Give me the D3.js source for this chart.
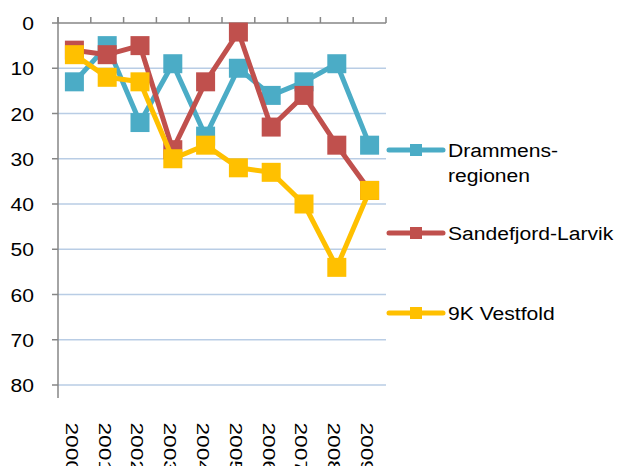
<!DOCTYPE html>
<html>
<head>
<meta charset="utf-8">
<script src="https://cdn.jsdelivr.net/npm/d3@7"></script>
<style>
  html, body { margin: 0; padding: 0; background: #fff; }
  svg { display: block; }
  text { font-family: "Liberation Sans", Arial, sans-serif; fill: #000; }
</style>
</head>
<body>
<svg id="chart" width="617" height="466"></svg>
<script>
// Rankings per year (lower = better, axis reversed)
const years = ["2000","2001","2002","2003","2004","2005","2006","2007","2008","2009"];
const drammensregionen = [13, 5, 22, 9, 25, 10, 16, 13, 9, 27];
const sandefjordLarvik = [6, 7, 5, 28, 13, 2, 23, 16, 27, 37];
const vestfold9K = [7, 12, 13, 30, 27, 32, 33, 40, 54, 37];
const yTicks = [0, 10, 20, 30, 40, 50, 60, 70, 80];

const series = [
  { name: ["Drammens-", "regionen"], values: drammensregionen, color: "#4BACC6", legendY: 150 },
  { name: ["Sandefjord-Larvik"], values: sandefjordLarvik, color: "#C0504D", legendY: 233 },
  { name: ["9K Vestfold"], values: vestfold9K, color: "#FFC000", legendY: 313 }
];

const svg = d3.select("#chart");
const plotLeft = 58, plotRight = 386, plotTop = 23, plotBottom = 385;

const x = d3.scaleBand().domain(years).range([plotLeft, plotRight]).paddingInner(0).paddingOuter(0);
const y = d3.scaleLinear().domain([0, 80]).range([plotTop, plotBottom]);
const cx = d => x(d) + x.bandwidth() / 2;

// Horizontal gridlines
svg.append("g")
  .selectAll("line")
  .data(yTicks.filter(t => t > 0))
  .join("line")
  .attr("x1", plotLeft).attr("x2", plotRight)
  .attr("y1", d => y(d)).attr("y2", d => y(d))
  .attr("stroke", "#B9CDE5").attr("stroke-width", 1.5);

// Value axis (left)
const axisColor = "#868686";
svg.append("line")
  .attr("x1", plotLeft).attr("x2", plotLeft)
  .attr("y1", plotTop - 6).attr("y2", plotBottom + 13)
  .attr("stroke", axisColor).attr("stroke-width", 1.5);
svg.append("g")
  .selectAll("line")
  .data(yTicks)
  .join("line")
  .attr("x1", plotLeft - 6).attr("x2", plotLeft)
  .attr("y1", d => y(d)).attr("y2", d => y(d))
  .attr("stroke", axisColor).attr("stroke-width", 1.5);
svg.append("g")
  .selectAll("text")
  .data(yTicks)
  .join("text")
  .attr("text-anchor", "end")
  .attr("dy", "0.36em")
  .attr("font-size", 18.5)
  .attr("transform", d => `translate(34,${y(d) + 0.5}) scale(1.14,1)`)
  .text(d => d);

// Category axis along the top (value 0)
svg.append("line")
  .attr("x1", plotLeft).attr("x2", plotRight)
  .attr("y1", plotTop).attr("y2", plotTop)
  .attr("stroke", axisColor).attr("stroke-width", 1.5);
const boundaries = years.map(d => x(d)).concat([plotRight]);
svg.append("g")
  .selectAll("line")
  .data(boundaries)
  .join("line")
  .attr("x1", d => d).attr("x2", d => d)
  .attr("y1", plotTop - 6).attr("y2", plotTop)
  .attr("stroke", axisColor).attr("stroke-width", 1.5);

// Rotated year labels below the plot
svg.append("g")
  .selectAll("text")
  .data(years)
  .join("text")
  .attr("font-size", 17.2)
  .attr("dy", "0.35em")
  .attr("transform", d => `translate(${cx(d) - 2.5},422.5) rotate(90) scale(1.32,1)`)
  .text(d => d);

// Lines and square markers
const line = d3.line().x((v, i) => cx(years[i])).y(v => y(v));
const markerSize = 19;

series.forEach(s => {
  const g = svg.append("g");
  g.append("path")
    .datum(s.values)
    .attr("d", line)
    .attr("fill", "none")
    .attr("stroke", s.color)
    .attr("stroke-width", 5)
    .attr("stroke-linejoin", "round");
  g.selectAll("rect")
    .data(s.values)
    .join("rect")
    .attr("x", (v, i) => cx(years[i]) - markerSize / 2)
    .attr("y", v => y(v) - markerSize / 2)
    .attr("width", markerSize)
    .attr("height", markerSize)
    .attr("fill", s.color);
});

// Legend
const legend = svg.append("g");
series.forEach(s => {
  legend.append("line")
    .attr("x1", 389).attr("x2", 443)
    .attr("y1", s.legendY).attr("y2", s.legendY)
    .attr("stroke", s.color).attr("stroke-width", 5)
    .attr("stroke-linecap", "round");
  legend.append("rect")
    .attr("x", 410).attr("y", s.legendY - 6)
    .attr("width", 12).attr("height", 12)
    .attr("fill", s.color);
  s.name.forEach((part, k) => {
    legend.append("text")
      .attr("font-size", 19)
      .attr("transform", `translate(448,${s.legendY + 7 + k * 25}) scale(1.11,1)`)
      .text(part);
  });
});
</script>
</body>
</html>
